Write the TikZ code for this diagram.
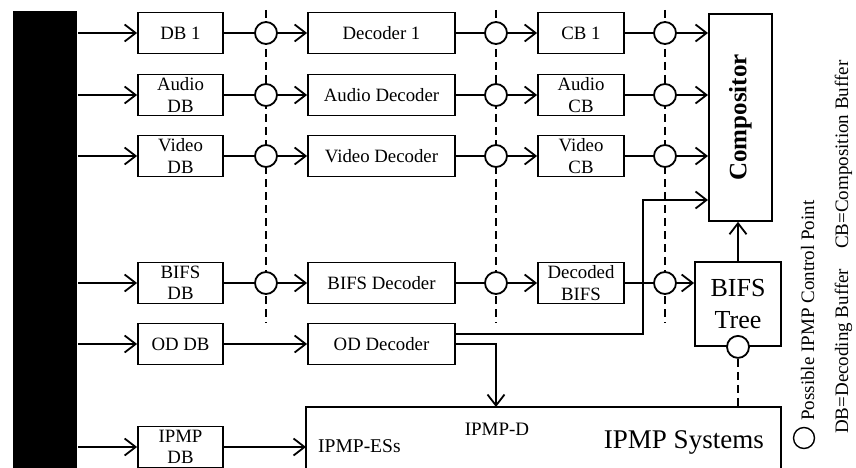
\documentclass[tikz,border=0pt]{standalone}
\usepackage{fontspec}
\setmainfont{Liberation Serif}
\usetikzlibrary{arrows.meta}

\begin{document}
\begin{tikzpicture}[x=1pt,y=-1pt,line width=1.8pt,
  box/.style={draw, minimum height=41, inner sep=0pt, align=center,
    font=\fontsize{18.8}{21.5}\selectfont},
  dbbox/.style={box, minimum width=85},
  decbox/.style={box, minimum width=147},
  cbbox/.style={box, minimum width=86},
  ctrl/.style={circle, draw, fill=white, minimum size=22, inner sep=0pt},
  flow/.style={-{Straight Barb[length=11pt,width=17pt]}},
  guide/.style={dash pattern=on 8pt off 5pt, line width=1.6pt},
  lgtext/.style={rotate=90, anchor=base west, font=\fontsize{19}{22}\selectfont},
]
\useasboundingbox (0,0) rectangle (856,468);
\clip (0,0) rectangle (856,468);

% demultiplexer bar
\node[fill=black, minimum width=64, minimum height=470, inner sep=0pt,
      anchor=north west] (demux) at (12,10) {};

% decoding buffers
\node[dbbox] (db1) at (180.5,33)  {DB 1};
\node[dbbox] (dba) at (180.5,95)  {Audio\\DB};
\node[dbbox] (dbv) at (180.5,156) {Video\\DB};
\node[dbbox] (dbb) at (180.5,283) {BIFS\\DB};
\node[dbbox] (dbo) at (180.5,344) {OD DB};
\node[dbbox] (dbi) at (180.5,447) {IPMP\\DB};

% decoders
\node[decbox] (dec1) at (381.5,33)  {Decoder 1};
\node[decbox] (deca) at (381.5,95)  {Audio Decoder};
\node[decbox] (decv) at (381.5,156) {Video Decoder};
\node[decbox] (decb) at (381.5,283) {BIFS Decoder};
\node[decbox] (deco) at (381.5,344) {OD Decoder};

% composition buffers
\node[cbbox] (cb1) at (581,33)  {CB 1};
\node[cbbox] (cba) at (581,95)  {Audio\\CB};
\node[cbbox] (cbv) at (581,156) {Video\\CB};
\node[cbbox] (cbb) at (581,283) {Decoded\\BIFS};

% compositor
\node[draw, minimum width=63, minimum height=207, inner sep=0pt,
      anchor=north west] (comp) at (708,13) {};
\node[rotate=90, font=\fontsize{25}{30}\selectfont\bfseries] (compt) at (comp.center) {Compositor};

% BIFS tree
\node[draw, minimum width=86, minimum height=84, inner sep=0pt, align=center,
      font=\fontsize{26}{32}\selectfont] (tree) at (738,304) {BIFS\\Tree};

% IPMP systems (open at the bottom)
\node[minimum width=473, minimum height=80, inner sep=0pt,
      anchor=north west] (ipmp) at (306,407) {};
\draw (ipmp.south west) -- (ipmp.north west) -- (ipmp.north east) -- (ipmp.south east);
\node[anchor=base, font=\fontsize{19}{22}\selectfont] (ipmpd) at (497,435) {IPMP-D};
\node[anchor=base west, font=\fontsize{19.5}{22}\selectfont] (ipmpes) at (314,452) {IPMP-ESs};
\node[anchor=base east, font=\fontsize{27}{32}\selectfont] (ipmpsys) at (768,448) {IPMP Systems};

% control-point guide lines
\coordinate (g1t) at (266,10);  \coordinate (g1b) at (266,323);
\coordinate (g2t) at (496,10);  \coordinate (g2b) at (496,323);
\coordinate (g3t) at (665,10);  \coordinate (g3b) at (665,323);
\draw[guide] (g1t) -- (g1b);
\draw[guide] (g2t) -- (g2b);
\draw[guide] (g3t) -- (g3b);

% control points
\foreach \r/\y in {1/33, a/95, v/156, b/283} {
  \node[ctrl] (p1\r) at (266,\y) {};
  \node[ctrl] (p2\r) at (496,\y) {};
  \node[ctrl] (p3\r) at (665,\y) {};
}
\node[ctrl] (pt) at (tree.south) {};
\draw[guide] (pt.south) -- (pt.south |- ipmp.north);

% stream paths
\foreach \r in {1,a,v,b,o,i} {
  \draw[flow] (demux.east |- db\r.west) -- (db\r.west);
}
\foreach \r in {1,a,v,b} {
  \draw (db\r.east) -- (p1\r);
  \draw[flow] (p1\r) -- (dec\r.west);
  \draw (dec\r.east) -- (p2\r);
  \draw[flow] (p2\r) -- (cb\r.west);
  \draw (cb\r.east) -- (p3\r);
}
\foreach \r in {1,a,v} {
  \draw[flow] (p3\r) -- (comp.west |- p3\r);
}
\draw[flow] (p3b) -- (tree.west |- p3b);
\draw[flow] (tree.north) -- (tree.north |- comp.south);

% object descriptor paths
\draw[flow] (dbo.east) -- (deco.west);
\coordinate (odturn) at (643,200);
\draw[flow] ([yshift=10pt]deco.east) -| (odturn) -- (comp.west |- odturn);
\coordinate (ipmpin) at (496,407);
\draw[flow] (deco.east) -| (ipmpin);

% IPMP elementary streams
\draw[flow] (dbi.east) -- (dbi.east -| ipmp.west);

% legend
\node[circle, draw, line width=1.4pt, minimum size=21, inner sep=0pt] (lgc) at (804,438) {};
\node[lgtext] (lgt) at (814,425) {Possible IPMP Control Point};
\node[lgtext] (lgdb) at (848,438) {DB=Decoding Buffer};
\node[lgtext] (lgcb) at (848,253) {CB=Composition Buffer};
\end{tikzpicture}
\end{document}
